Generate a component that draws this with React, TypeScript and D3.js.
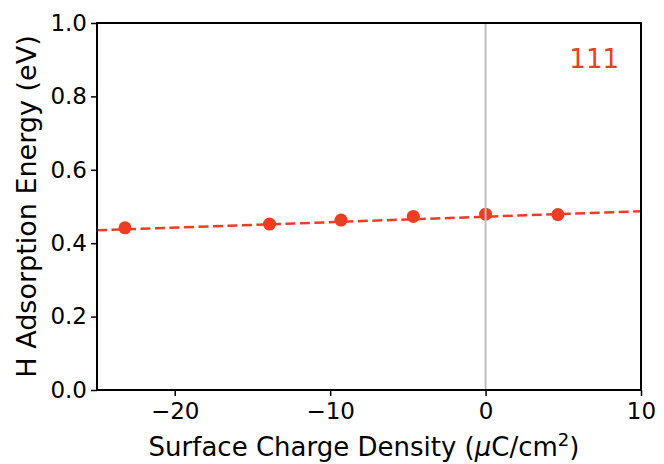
import { useEffect, useRef } from 'react'
import * as d3 from 'd3'

const chargeDensity = [-23.2, -13.9, -9.3, -4.65, 0, 4.65]
const adsorptionEnergy = [0.442, 0.452, 0.463, 0.473, 0.479, 0.478]
const fitEnds = [-25, 10]
const fitValues = [0.435, 0.487]
const xTicks = [-20, -10, 0, 10]
const yTicks = [0, 0.2, 0.4, 0.6, 0.8, 1.0]
const facetLabel = '111'

const RED = '#ee3d23'

export default function App() {
  const svgRef = useRef<SVGSVGElement>(null)
  const width = 664
  const height = 464
  const margin = { top: 23, right: 23, bottom: 74, left: 97 }

  useEffect(() => {
    if (!svgRef.current) return
    document.body.style.margin = '0'
    const svg = d3.select(svgRef.current)
    svg.selectAll('*').remove()

    const x = d3.scaleLinear().domain([-25, 10]).range([margin.left, width - margin.right])
    const y = d3.scaleLinear().domain([0, 1]).range([height - margin.bottom, margin.top])
    const font = 'DejaVu Sans, sans-serif'

    // linear fit
    const line = d3.line<number>()
      .x((_, i) => x(fitEnds[i]))
      .y(d => y(d))
    svg.append('path')
      .attr('d', line(fitValues))
      .attr('fill', 'none')
      .attr('stroke', RED)
      .attr('stroke-width', 2.5)
      .attr('stroke-dasharray', '10,4.5')

    svg.selectAll('circle.pt')
      .data(chargeDensity)
      .enter()
      .append('circle')
      .attr('class', 'pt')
      .attr('cx', d => x(d))
      .attr('cy', (_, i) => y(adsorptionEnergy[i]))
      .attr('r', 6.5)
      .attr('fill', RED)

    // vertical line at zero, drawn over the points
    svg.append('line')
      .attr('x1', x(0)).attr('x2', x(0))
      .attr('y1', y(0)).attr('y2', y(1))
      .attr('stroke', '#bfbfbf').attr('stroke-width', 2)

    // frame
    svg.append('rect')
      .attr('x', margin.left).attr('y', margin.top)
      .attr('width', width - margin.left - margin.right)
      .attr('height', height - margin.top - margin.bottom)
      .attr('fill', 'none')
      .attr('stroke', 'black')
      .attr('stroke-width', 2)

    const xAxis = svg.append('g')
      .attr('transform', `translate(0,${y(0)})`)
      .call(d3.axisBottom(x).tickValues(xTicks).tickSize(6).tickPadding(7)
        .tickFormat(d => (d as number) < 0 ? '\u2212' + Math.abs(d as number) : String(d)))
    xAxis.select('.domain').remove()
    xAxis.selectAll('line').attr('stroke-width', 1.5)
    xAxis.selectAll('text').attr('font-size', 23).attr('font-family', font).attr('fill', 'black')

    const yAxis = svg.append('g')
      .attr('transform', `translate(${x(-25)},0)`)
      .call(d3.axisLeft(y).tickValues(yTicks).tickSize(6).tickPadding(4).tickFormat(d3.format('.1f')))
    yAxis.select('.domain').remove()
    yAxis.selectAll('line').attr('stroke-width', 1.5)
    yAxis.selectAll('text').attr('font-size', 23).attr('font-family', font).attr('fill', 'black')

    const xLabel = svg.append('text')
      .attr('x', (margin.left + width - margin.right) / 2 - 5)
      .attr('y', 456)
      .attr('text-anchor', 'middle')
      .attr('font-size', 26)
      .attr('font-family', font)
    xLabel.append('tspan').text('Surface Charge Density (')
    xLabel.append('tspan').attr('font-style', 'italic').text('\u03bc')
    xLabel.append('tspan').text('C/cm')
    xLabel.append('tspan').attr('dy', -10).attr('font-size', 18).text('2')
    xLabel.append('tspan').attr('dy', 10).text(')')

    svg.append('text')
      .attr('transform', `translate(36,${(margin.top + height - margin.bottom) / 2}) rotate(-90)`)
      .attr('text-anchor', 'middle')
      .attr('font-size', 27)
      .attr('font-family', font)
      .text('H Adsorption Energy (eV)')

    svg.append('text')
      .attr('x', 619)
      .attr('y', 68)
      .attr('text-anchor', 'end')
      .attr('font-size', 26)
      .attr('font-family', font)
      .attr('fill', RED)
      .text(facetLabel)
  }, [])

  return <svg ref={svgRef} width={width} height={height} style={{ display: 'block', background: 'white' }} />
}
